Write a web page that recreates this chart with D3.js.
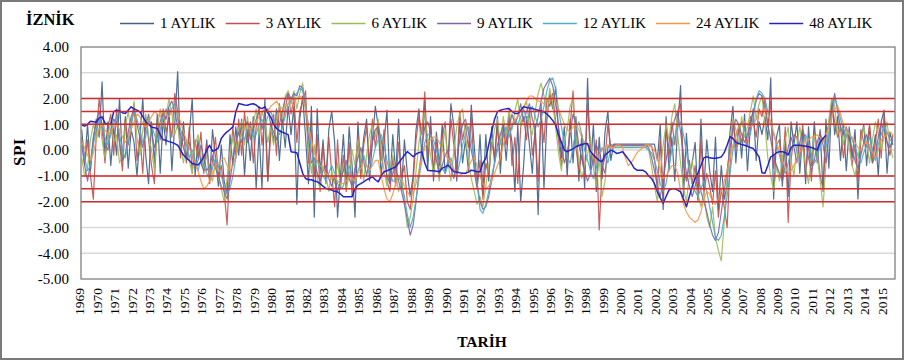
<!DOCTYPE html>
<html>
<head>
<meta charset="utf-8">
<script src="https://cdn.jsdelivr.net/npm/d3@7"></script>
<style>
  html, body { margin: 0; padding: 0; background: #fff; }
  svg { display: block; }
</style>
</head>
<body>
<svg id="chart" width="906" height="363"></svg>
<script>
// İznik SPI series, one value every two months (Jan, Mar, May, Jul, Sep, Nov) from January 1969.
const seriesNames = ["1 AYLIK", "3 AYLIK", "6 AYLIK", "9 AYLIK", "12 AYLIK", "24 AYLIK", "48 AYLIK"];
const seriesColors = ["#3e5f87", "#c0504d", "#9bbb59", "#8064a2", "#4bacc6", "#f79646", "#2424c4"];

const spi1 = [
  0.8, -0.5, 1.0, -0.8, 0.4, 1.2,
  0.5, 2.65, -0.3, 1.1, -0.6, 0.9,
  -0.2, 2.0, -0.4, 1.3, -0.7, 0.8,
  0.3, -1.0, 0.5, 2.0, -0.2, -1.3,
  1.1, -0.5, 1.4, -0.9, 1.2, 0.2,
  1.6, -0.8, 1.0, 3.05, -0.2, 1.1,
  -0.4, 0.6, 2.0, -1.0, 0.4, -0.5,
  -0.8, 0.4, -1.1, 0.8, -0.3, -1.4,
  0.2, -1.2, -1.7, 0.6, -0.6, 0.9,
  -0.2, 1.2, -1.0, 0.8, -0.4, 1.3,
  -1.5, 0.7, -1.5, 2.0, -1.2, 1.1,
  0.3, 1.6, -0.4, 1.2, 0.1, 1.7,
  0.6, 1.7, -2.1, 1.2, 2.1, 0.5,
  -1.3, 1.7, -2.6, 1.6, -0.9, 0.4,
  -1.2, 0.8, 1.5, 0.3, -2.6, -1.0,
  0.6, -1.4, 0.9, -0.6, -2.6, 1.1,
  -0.8, 0.5, 1.2, -1.2, 0.4, 1.7,
  0.9, -1.0, 0.3, 1.55, -1.3, 0.6,
  -0.9, 1.2, -1.5, 0.4, -0.9, -1.8,
  -1.0, 0.8, 1.6, -0.3, 1.9, -0.8,
  1.3, -1.2, 0.7, -0.6, 1.0, -0.9,
  -0.4, 1.8, 0.9, -1.2, 1.1, -0.5,
  0.4, -0.8, 1.75, 0.2, -1.4, 0.6,
  -1.7, 0.6, -1.2, 0.9, -0.5, 1.3,
  -0.9, 1.0, -0.4, 1.1, 0.3, -1.6,
  1.0, -2.0, -0.6, 1.3, 0.2, -0.9,
  1.0, -2.5, 1.8, -1.5, 1.2, 2.2,
  1.6, 2.45, 0.8, -0.3, 0.9, -1.0,
  1.2, -0.5, 1.3, -1.2, 0.6, -1.5,
  2.78, -0.8, 1.0, -1.6, 0.5, -1.1,
  0.7, 1.5, -0.4, 0.23, 0.23, 0.23,
  0.23, 0.23, 0.23, 0.23, 0.23, 0.23,
  0.23, 0.23, 0.23, 0.23, 0.23, 0.23,
  -0.4, 1.0, -2.3, 1.3, -0.8, 0.5,
  -1.2, 0.9, 2.5, -1.8, 0.65, -1.0,
  -0.5, 0.3, -1.9, 1.2, -1.5, 0.4,
  -0.8, -1.6, 0.5, -2.3, -0.6, -1.9,
  -1.4, 0.7, 1.7, -0.5, 1.0, -0.3,
  1.4, -0.8, 0.9, 1.6, -0.4, 1.1,
  0.6, 1.3, 0.4, 2.8, -1.9, 0.5,
  1.0, -1.4, 0.4, -1.8, 1.1, 0.2,
  1.1, -0.9, 0.7, -1.3, 0.9, -0.6,
  1.1, -0.5, 0.8, -1.6, 1.2, -0.7,
  2.0, 0.6, 1.3, -0.4, 1.0, -0.8,
  0.9, -0.3, 0.8, -1.9, 0.4, 1.0,
  -0.6, 0.9, -0.2, 0.6, -1.0, 1.1,
  1.55, -0.9, 0.7, 0.2
];

const spi3 = [
  0.5, -0.6, 0.4, -1.0, -1.9, 0.6,
  2.0, 0.8, -0.5, 0.9, 1.4, -0.2,
  1.6, 0.3, -0.8, 1.2, 0.2, 1.0,
  1.8, -0.4, 0.6, -0.9, 1.3, 0.4,
  -0.6, -1.3, 1.2, 0.4, 1.6, 0.7,
  1.2, 0.5, 2.2, 1.5, -0.3, 0.8,
  -0.5, 0.9, -0.9, 0.4, -0.3, 0.7,
  -0.9, 0.2, -1.3, -0.4, 0.5, -1.0,
  -0.6, -1.6, -2.9, -0.5, 0.9, -0.3,
  1.2, -0.2, 1.5, 0.3, 1.1, -0.5,
  0.9, 1.7, 0.2, 1.3, -1.2, 0.6,
  1.4, -0.2, 1.8, 0.9, 1.6, 2.2,
  1.4, 2.0, 0.3, 1.5, 1.9, 2.3,
  -0.5, 0.8, -1.0, 0.6, -1.6, 0.2,
  -1.3, 0.5, -0.9, -2.2, 0.4, -1.5,
  -0.2, -1.6, 0.3, -1.8, -0.9, 0.6,
  -1.1, 0.2, 0.9, -0.5, 1.2, 0.1,
  1.0, -0.4, 0.8, -1.2, -1.6, -0.3,
  -1.4, 0.3, -1.1, -0.6, -2.0, -2.3,
  -1.2, 0.4, 1.3, 0.6, 2.26, -0.3,
  0.9, -0.8, 0.3, -1.1, 0.5, 1.1,
  -0.6, 1.2, 0.2, -0.9, 1.5, 0.4,
  1.0, 0.1, 1.3, -0.8, -1.5, -0.4,
  -1.9, -0.5, -1.0, 0.3, -0.2, 0.9,
  -0.4, 0.7, 0.2, 1.4, -0.6, 0.5,
  -1.3, 0.9, 1.3, 0.4, 1.6, -0.2,
  0.6, -1.2, 1.4, 0.3, 2.0, 1.7,
  2.2, 1.1, 0.4, -0.6, 0.2, -0.5,
  0.9, 2.3, 0.1, -0.8, -0.2, -1.0,
  1.8, 0.2, -0.6, 0.4, -3.1, -0.7,
  -0.3, 1.0, 0.1, 0.17, 0.17, 0.17,
  0.17, 0.17, 0.17, 0.17, 0.17, 0.17,
  0.17, 0.17, 0.17, 0.17, 0.17, -0.3,
  -1.5, 0.4, -1.8, 0.9, -0.3, 1.1,
  0.2, 1.5, 1.8, -0.6, -1.2, -0.4,
  -1.3, -0.6, -2.0, 0.4, -1.7, -0.9,
  -1.4, -2.1, -0.8, -2.6, -1.5, -2.2,
  -3.0, -0.6, 1.2, 0.1, 0.8, 0.3,
  0.9, 0.2, 1.3, 1.1, 0.5, 1.6,
  1.3, 2.0, 0.9, 1.9, -0.7, 0.2,
  0.4, -0.9, 0.9, -2.8, -0.4, 0.6,
  0.5, -0.4, 1.0, -0.9, 0.3, -1.2,
  0.7, 0.1, -1.0, -1.5, 0.6, 1.0,
  1.8, 1.1, 0.5, 0.9, -0.3, 0.6,
  0.5, -0.6, 0.2, -1.2, 0.8, 0.3,
  0.1, 1.0, -0.5, 0.3, 1.2, -0.3,
  1.4, 0.3, -0.2, 0.6
];

const spi6 = [
  -0.3, -1.0, -0.7, 0.4, 1.0, 0.5,
  1.3, 0.4, -0.3, 0.6, 1.1, 0.3,
  0.6, -0.5, -0.2, 0.9, 1.5, 0.7,
  1.9, 0.5, -0.2, 0.8, 1.4, 0.6,
  0.0, -0.8, 0.8, 1.6, 0.9, 1.3,
  2.0, 1.4, 0.6, 1.0, 0.1, -0.5,
  0.4, -0.4, -0.9, 0.2, 0.6, -0.2,
  -0.7, -0.2, -0.9, -1.2, -0.5, -1.1,
  -1.5, -2.0, -1.1, -0.2, 0.5, 0.0,
  0.8, 1.1, 0.2, 1.3, 0.5, 1.0,
  1.6, 0.6, 1.5, 1.1, 0.3, 0.9,
  0.2, 1.3, 1.7, 1.2, 2.1, 2.3,
  1.8, 2.3, 1.6, 2.2, 2.6, 1.5,
  0.2, -0.9, 0.2, -1.1, -1.5, -0.6,
  -1.0, -1.6, -0.8, -1.3, -0.5, -1.4,
  -0.5, -1.5, -1.0, 0.0, -0.6, 0.4,
  -0.3, -1.2, -0.2, 0.6, 1.0, 0.5,
  1.2, 0.0, -0.8, -1.4, -0.7, -0.2,
  -0.9, -1.6, -1.1, -2.0, -3.0, -2.6,
  -1.9, -0.8, 0.3, 0.9, 1.5, 0.4,
  -0.2, -0.9, -0.2, -1.2, 0.1, 0.8,
  -0.5, -1.2, 0.0, 0.9, 1.4, 1.6,
  0.5, -0.4, -1.1, -1.6, -2.1, -1.8,
  -2.2, -1.4, -0.6, 0.1, 0.8, 1.2,
  0.2, 1.3, 0.6, 1.6, 0.8, 1.5,
  2.0, 0.9, 1.6, 1.9, 0.9, 0.6,
  1.5, 2.2, 2.6, 2.1, 1.3, 2.4,
  1.8, 0.9, -0.1, -0.8, 0.3, 0.8,
  1.7, 2.0, 0.5, -0.4, -1.1, -0.6,
  -0.2, 0.5, -0.7, -1.4, -0.3, -1.8,
  -1.2, 0.2, 0.12, 0.12, 0.12, 0.12,
  0.12, 0.12, 0.12, 0.12, 0.12, 0.12,
  0.12, 0.12, 0.12, 0.0, -0.6, -1.4,
  -2.0, -0.9, 0.2, 1.0, 0.4, 1.3,
  1.8, 0.6, -0.5, -1.5, -2.0, -1.0,
  -0.4, -1.2, -1.7, -2.2, -1.6, -2.6,
  -3.0, -2.2, -3.4, -3.9, -4.3, -2.8,
  -1.2, 0.4, 1.2, 0.8, 0.2, 1.3,
  0.5, 0.9, 1.5, 2.1, 1.2, 1.8,
  2.1, 1.0, -0.3, -1.0, -1.6, -0.6,
  -1.2, -0.3, 0.4, 0.9, -0.4, -1.0,
  0.2, 0.9, 0.1, -0.6, -1.3, -0.3,
  0.6, -0.2, -1.2, -2.2, -0.5, 1.2,
  2.0, 1.7, 0.6, 1.0, 0.2, 0.8,
  0.1, -0.6, -1.0, -0.3, 0.4, 0.9,
  0.3, -0.5, 0.4, 1.1, 0.6, 0.0,
  0.5, 1.1, 0.2, -0.3
];

const spi9 = [
  0.2, -0.6, -1.2, -0.5, 0.5, 1.1,
  1.5, 1.0, 0.3, 0.0, 0.8, 1.2,
  1.1, 0.3, -0.4, -0.2, 0.7, 1.3,
  1.6, 1.0, 0.5, 0.1, 0.9, 1.4,
  0.7, 0.1, 0.5, 1.1, 1.5, 1.2,
  1.7, 1.9, 1.5, 0.9, 0.6, 0.1,
  -0.3, 0.3, -0.2, -0.7, -0.4, 0.2,
  -0.3, -0.8, -0.6, -0.2, -0.7, -1.0,
  -1.4, -1.6, -1.9, -1.2, -0.4, 0.3,
  0.7, 0.3, 0.9, 1.1, 0.4, 0.8,
  1.2, 1.5, 0.8, 1.4, 1.6, 1.0,
  0.7, 0.4, 1.0, 1.5, 2.0, 2.2,
  2.0, 2.2, 2.1, 2.5, 2.4, 1.7,
  0.5, -0.5, -0.3, -0.9, -1.2, -0.8,
  -0.6, -1.1, -1.4, -1.0, -1.6, -1.2,
  -0.8, -0.4, -1.1, -1.4, -0.7, -0.3,
  0.1, -0.4, -1.0, -0.3, 0.3, 0.8,
  0.9, 0.4, -0.3, -1.0, -1.3, -0.9,
  -0.6, -1.2, -1.6, -2.1, -2.7, -3.3,
  -2.9, -2.0, -0.9, 0.1, 0.9, 1.1,
  0.7, 0.1, -0.4, -0.9, -0.6, -0.2,
  0.0, -0.7, -1.1, -0.4, 0.4, 1.0,
  1.2, 0.7, 0.0, -0.6, -1.3, -2.0,
  -2.3, -2.2, -1.8, -1.2, -0.5, 0.2,
  0.6, 1.0, 0.4, 0.9, 1.4, 1.0,
  1.3, 1.8, 1.1, 1.5, 1.8, 1.2,
  0.8, 1.3, 1.9, 2.4, 2.6, 2.8,
  2.5, 1.8, 0.9, 0.1, -0.5, -0.1,
  0.6, 1.4, 1.0, 0.2, -0.3, -0.8,
  -1.2, -0.9, -0.3, 0.2, -0.1, -0.6,
  -0.9, 0.1, 0.2, 0.19, 0.19, 0.19,
  0.19, 0.19, 0.19, 0.19, 0.19, 0.19,
  0.19, 0.19, 0.19, 0.1, -0.3, -0.8,
  -1.4, -1.8, -1.2, -0.4, 0.3, 0.8,
  1.2, 1.5, 0.7, -0.2, -0.9, -1.4,
  -1.8, -1.4, -1.0, -1.6, -2.0, -2.4,
  -2.9, -3.3, -3.5, -3.2, -2.4, -1.6,
  -0.8, 0.1, 0.8, 1.2, 1.0, 0.6,
  0.3, 0.6, 1.1, 1.5, 1.9, 2.2,
  2.1, 1.6, 1.0, 0.4, -0.2, -0.6,
  -0.9, -1.2, -0.6, 0.1, 0.5, 0.1,
  -0.5, 0.3, 0.8, 0.4, -0.3, -0.8,
  -0.4, 0.3, 0.7, 0.2, -0.5, 0.5,
  1.6, 2.2, 1.5, 0.9, 0.6, 0.9,
  0.5, 0.0, -0.4, -0.7, -0.2, 0.3,
  0.6, 0.1, -0.5, -0.2, 0.5, 1.0,
  0.8, 0.3, 0.1, 0.4
];

const spi12 = [
  0.4, -0.3, -0.8, -0.6, 0.2, 0.8,
  1.2, 0.9, 0.5, 0.2, 0.6, 1.0,
  1.3, 0.6, 0.0, -0.3, 0.3, 1.0,
  1.5, 1.2, 0.8, 0.3, 0.5, 1.2,
  1.0, 0.6, 0.3, 0.8, 1.3, 1.6,
  1.4, 1.6, 1.8, 1.2, 0.8, 0.4,
  0.2, -0.3, 0.0, -0.4, -0.8, -0.4,
  -0.6, -0.9, -1.1, -0.7, -0.3, -0.6,
  -1.0, -1.4, -1.7, -1.5, -1.0, -0.3,
  0.2, 0.6, 0.4, 0.8, 1.0, 0.5,
  0.6, 1.0, 1.2, 0.9, 1.3, 1.5,
  1.2, 0.9, 0.6, 0.9, 1.3, 1.8,
  1.9, 2.1, 2.2, 2.4, 2.3, 1.8,
  0.9, 0.0, -0.6, -0.4, -0.8, -1.0,
  -1.2, -0.9, -0.6, -0.9, -1.3, -1.5,
  -1.4, -1.0, -0.6, -1.0, -1.3, -0.8,
  -0.5, -0.2, -0.6, -0.9, -0.4, 0.1,
  0.4, 0.6, 0.2, -0.4, -0.9, -1.2,
  -1.2, -1.0, -1.3, -1.8, -2.5, -3.0,
  -2.6, -1.9, -1.1, -0.4, 0.3, 0.6,
  0.6, 0.4, 0.0, -0.4, -0.7, -0.9,
  -0.6, -0.3, -0.8, -1.0, -0.5, 0.2,
  0.6, 0.9, 0.4, -0.4, -1.3, -2.3,
  -2.45, -2.1, -1.6, -1.0, -0.5, 0.0,
  0.3, 0.6, 0.9, 0.5, 0.9, 1.2,
  1.0, 1.3, 1.6, 1.2, 1.4, 1.7,
  1.3, 0.9, 1.2, 1.7, 2.3, 2.7,
  2.8, 2.4, 1.6, 0.9, 0.3, -0.3,
  -0.5, 0.1, 0.8, 1.1, 0.6, 0.0,
  -0.4, -0.8, -1.1, -0.7, -0.2, 0.1,
  -0.2, -0.5, 0.1, 0.1, 0.1, 0.1,
  0.1, 0.1, 0.1, 0.1, 0.1, 0.1,
  0.1, 0.1, 0.1, 0.0, -0.1, -0.4,
  -0.8, -1.3, -1.6, -1.3, -0.6, 0.0,
  0.5, 0.9, 1.1, 0.6, -0.1, -0.8,
  -1.3, -1.6, -1.8, -1.5, -1.2, -1.6,
  -2.2, -2.8, -3.4, -3.5, -3.3, -2.6,
  -1.8, -0.9, 0.0, 0.6, 0.9, 1.1,
  0.8, 0.5, 0.6, 1.3, 2.0, 2.3,
  2.2, 2.0, 1.5, 1.0, 0.6, 0.2,
  -0.2, -0.6, -0.9, -0.5, 0.0, 0.3,
  0.0, -0.4, 0.2, 0.6, 0.3, -0.2,
  -0.5, -0.3, 0.2, 0.5, 0.1, 0.6,
  1.3, 2.0, 1.7, 1.2, 0.8, 0.5,
  0.7, 0.4, 0.1, -0.2, -0.5, -0.1,
  0.2, 0.5, 0.0, -0.4, 0.2, 0.6,
  0.9, 0.7, 0.4, 0.3
];

const spi24 = [
  0.3, 0.1, -0.2, -0.4, -0.1, 0.4,
  0.8, 1.0, 0.8, 0.6, 0.7, 0.9,
  1.0, 0.8, 0.5, 0.3, 0.5, 0.8,
  1.1, 1.4, 1.3, 1.0, 0.9, 1.1,
  1.3, 1.5, 1.4, 1.3, 1.5, 1.4,
  1.3, 1.5, 1.6, 1.4, 1.1, 0.7,
  0.4, 0.1, -0.2, -0.5, -0.8, -1.2,
  -1.5, -1.4, -1.2, -0.9, -0.6, -0.5,
  -0.4, -0.3, -0.6, -0.8, -0.6, -0.2,
  0.3, 0.7, 0.9, 0.9, 0.8, 1.0,
  1.1, 1.3, 1.5, 1.6, 1.5, 1.7,
  1.8, 1.9, 1.7, 1.6, 1.7, 1.8,
  1.8, 1.9, 2.0, 2.1, 2.0, 1.6,
  1.0, 0.4, -0.1, -0.4, -0.6, -0.7,
  -0.9, -1.0, -1.1, -1.0, -1.2, -1.3,
  -1.3, -1.2, -1.0, -1.1, -1.2, -0.9,
  -0.7, -0.5, -0.6, -0.8, -0.6, -0.4,
  -0.4, -1.0, -1.5, -1.9, -2.0, -1.7,
  -1.3, -1.0, -1.1, -1.4, -1.6, -1.8,
  -1.7, -1.3, -0.8, -0.3, 0.1, 0.3,
  0.4, 0.5, 0.5, 0.3, 0.0, -0.2,
  -0.3, -0.5, -0.8, -1.0, -1.0, -0.9,
  -0.9, -0.7, -0.4, -0.3, -0.6, -1.0,
  -1.3, -1.5, -1.4, -1.2, -0.9, -0.6,
  -0.3, 0.2, 0.6, 0.9, 1.0, 1.2,
  1.3, 1.5, 1.7, 1.9, 2.1, 2.1,
  2.0, 1.9, 1.9, 1.8, 1.9, 2.0,
  2.1, 1.9, 1.6, 1.3, 1.0, 0.8,
  0.7, 0.9, 1.0, 0.8, 0.5, 0.3,
  0.2, 0.0, -0.3, -0.4, -0.2, 0.0,
  0.1, 0.2, 0.1, 0.1, 0.2, 0.2,
  0.1, -0.3, -0.6, -0.5, -0.3, -0.1,
  0.0, 0.1, 0.2, 0.2, 0.1, 0.0,
  -0.3, -0.8, -1.1, -1.0, -0.8, -0.6,
  -0.6, -0.9, -1.6, -2.1, -2.4, -2.6,
  -2.7, -2.8, -2.7, -2.4, -1.9, -1.6,
  -1.7, -2.0, -2.1, -1.9, -1.6, -1.2,
  -0.8, -0.3, 0.2, 0.6, 0.9, 1.0,
  1.1, 1.0, 0.9, 1.0, 1.2, 1.4,
  1.5, 1.6, 1.4, 1.1, 0.7, 0.3,
  0.0, -0.4, -0.7, -0.9, -0.8, -0.6,
  -0.4, -0.1, 0.2, 0.4, 0.4, 0.5,
  0.5, 0.6, 0.5, 0.3, 0.6, 0.9,
  1.3, 1.6, 1.7, 1.4, 1.0, 0.8,
  0.6, 0.5, 0.3, 0.1, 0.0, 0.2,
  0.3, 0.2, -0.1, -0.3, 0.0, 0.4,
  0.5, 0.6, 0.7, 0.6
];

const spi48 = [
  0.97, 0.93, 1.0, 1.12, 1.1, 1.08,
  1.25, 1.29, 1.05, 1.0, 1.0, 1.49,
  1.55, 1.52, 1.45, 1.42, 1.55, 1.68,
  1.6, 1.55, 1.48, 1.3, 1.1, 1.0,
  0.9, 0.87, 0.84, 0.6, 0.4, 0.38,
  0.33, 0.3, 0.25, 0.19, 0.0, -0.19,
  -0.3, -0.4, -0.52, -0.55, -0.58, -0.45,
  -0.26, 0.0, 0.19, -0.04, 0.0, 0.09,
  0.45, 0.6, 0.71, 0.8, 0.9, 1.49,
  1.81, 1.78, 1.75, 1.74, 1.78, 1.8,
  1.75, 1.65, 1.61, 1.68, 1.45, 1.29,
  1.0, 0.84, 0.75, 0.7, 0.65, 0.6,
  -0.06, -0.08, -0.1, -0.5, -0.9, -1.1,
  -1.15, -1.15, -1.2, -1.23, -1.3, -1.4,
  -1.49, -1.52, -1.55, -1.6, -1.62, -1.7,
  -1.81, -1.81, -1.81, -1.81, -1.5, -1.36,
  -1.3, -1.23, -1.15, -1.1, -1.03, -1.15,
  -1.23, -1.0, -0.84, -0.8, -0.75, -0.7,
  -0.65, -0.5, -0.35, -0.2, -0.06, -0.15,
  -0.26, -0.15, -0.1, -0.06, -0.5, -0.78,
  -0.8, -0.8, -0.82, -0.84, -0.7, -0.65,
  -0.58, -0.7, -0.84, -0.85, -0.88, -0.9,
  -0.9, -0.85, -0.78, -0.8, -0.84, -0.84,
  -0.5, -0.32, 0.2, 0.71, 1.2, 1.49,
  1.55, 1.58, 1.6, 1.61, 1.5, 1.42,
  1.42, 1.55, 1.68, 1.65, 1.63, 1.61,
  1.58, 1.55, 1.52, 1.48, 1.4, 1.29,
  1.15, 0.97, 0.6, 0.3, 0.0, -0.06,
  0.0, 0.05, 0.13, 0.18, 0.22, 0.25,
  0.26, -0.05, -0.19, -0.3, -0.4, -0.45,
  -0.19, -0.1, 0.0, -0.05, -0.13, -0.1,
  -0.06, -0.2, -0.35, -0.5, -0.7, -0.78,
  -0.78, -0.78, -0.85, -1.0, -1.1, -1.3,
  -1.62, -1.85, -2.07, -1.8, -1.55, -1.5,
  -1.5, -1.55, -1.62, -1.9, -2.2, -1.8,
  -1.4, -1.1, -0.88, -0.6, -0.3, -0.26,
  -0.3, -0.32, -0.32, -0.3, -0.26, -0.1,
  0.19, 0.52, 0.45, 0.3, 0.26, 0.22,
  0.19, 0.15, 0.1, 0.06, -0.1, -0.26,
  -0.88, -0.9, -0.6, -0.26, -0.2, -0.1,
  -0.06, -0.06, -0.1, -0.19, 0.1, 0.19,
  0.19, 0.19, 0.17, 0.15, 0.13, 0.1,
  0.06, 0.0, 0.3, 0.45, 0.58
];

const seriesValues = [spi1, spi3, spi6, spi9, spi12, spi24, spi48];

// Drought/wet class limits drawn as red reference lines
const thresholdLevels = [2, 1.5, 1, -1, -1.5, -2];
const yTicks = [4, 3, 2, 1, 0, -1, -2, -3, -4, -5];
const yearLabels = [1969, 1970, 1971, 1972, 1973, 1974, 1975, 1976, 1977, 1978, 1979, 1980,
  1981, 1982, 1983, 1984, 1985, 1986, 1987, 1988, 1989, 1990, 1991, 1992, 1993, 1994,
  1995, 1996, 1997, 1998, 1999, 2000, 2001, 2002, 2003, 2004, 2005, 2006, 2007, 2008,
  2009, 2010, 2011, 2012, 2013, 2014, 2015];

const FONT = "'Liberation Serif', 'Times New Roman', serif";
const plot = { left: 81, right: 895, top: 47, bottom: 279 };
const monthsShown = 560; // Jan 1969 – Aug 2015
const stepMonths = 2;

const x = d3.scaleLinear().domain([1969, 1969 + monthsShown / 12]).range([plot.left, plot.right]);
const y = d3.scaleLinear().domain([-5, 4]).range([plot.bottom, plot.top]);

const svg = d3.select("#chart");

svg.append("rect").attr("width", 906).attr("height", 363).attr("fill", "#fff");
svg.append("rect")
  .attr("x", 1).attr("y", 1).attr("width", 902).attr("height", 358)
  .attr("fill", "none").attr("stroke", "#7a7a7a").attr("stroke-width", 2);

// horizontal gridlines
svg.append("g").selectAll("line")
  .data(yTicks.filter(v => v > -5 && v < 4))
  .join("line")
  .attr("x1", plot.left).attr("x2", plot.right)
  .attr("y1", d => y(d)).attr("y2", d => y(d))
  .attr("stroke", "#d9d9d9").attr("stroke-width", 1.5);

// y axis labels
const yAxisG = svg.append("g")
  .attr("transform", `translate(${plot.left},0)`)
  .attr("font-family", FONT)
  .call(d3.axisLeft(y).tickValues(yTicks).tickSize(0).tickPadding(12).tickFormat(d => d.toFixed(2)));
yAxisG.attr("font-family", FONT).attr("font-size", 15);
yAxisG.select(".domain").remove();
yAxisG.selectAll("text")
  .attr("font-family", FONT).attr("font-size", 15).attr("fill", "#000");

// x axis: rotated year labels
const xAxisG = svg.append("g")
  .attr("transform", `translate(0,${plot.bottom})`)
  .call(d3.axisBottom(x).tickValues(yearLabels).tickSize(0).tickFormat(d => String(d)));
xAxisG.attr("font-family", FONT).attr("font-size", 13.5);
xAxisG.select(".domain").remove();
xAxisG.selectAll("text")
  .attr("font-family", FONT).attr("font-size", 13.5).attr("fill", "#000")
  .attr("transform", "rotate(-90)")
  .attr("text-anchor", "end")
  .attr("x", -9).attr("y", -2).attr("dy", "0.35em");

// series lines
const timeOf = i => 1969 + (i * stepMonths + 0.5) / 12;
const line = d3.line()
  .x((d, i) => x(timeOf(i)))
  .y(d => y(d))
  .curve(d3.curveLinear);

const seriesG = svg.append("g");
seriesValues.forEach((vals, k) => {
  seriesG.append("path")
    .datum(vals)
    .attr("d", line)
    .attr("fill", "none")
    .attr("stroke", seriesColors[k])
    .attr("stroke-width", k === 6 ? 1.5 : 1.2)
    .attr("stroke-linejoin", "round")
    .attr("stroke-opacity", k === 6 ? 1 : 0.9);
});

// threshold lines
svg.append("g").selectAll("line")
  .data(thresholdLevels)
  .join("line")
  .attr("x1", plot.left).attr("x2", plot.right)
  .attr("y1", d => y(d)).attr("y2", d => y(d))
  .attr("stroke", "#d42a2a").attr("stroke-width", 1.5);

// plot area frame
svg.append("rect")
  .attr("x", plot.left).attr("y", plot.top)
  .attr("width", plot.right - plot.left).attr("height", plot.bottom - plot.top)
  .attr("fill", "none").attr("stroke", "#808080").attr("stroke-width", 1.3);

// title
svg.append("text")
  .attr("x", 26).attr("y", 25)
  .attr("font-family", FONT).attr("font-size", 16.5).attr("font-weight", "bold")
  .text("İZNİK");

// axis titles
svg.append("text")
  .attr("transform", "translate(25,152) rotate(-90)")
  .attr("text-anchor", "middle")
  .attr("font-family", FONT).attr("font-size", 17).attr("font-weight", "bold")
  .attr("letter-spacing", 0.5)
  .text("SPI");

svg.append("text")
  .attr("x", 482).attr("y", 346.5)
  .attr("text-anchor", "middle")
  .attr("font-family", FONT).attr("font-size", 15.5).attr("font-weight", "bold")
  .text("TARİH");

// legend, laid out left to right
const legendG = svg.append("g");
let lx = 120;
const ly = 23.5;
seriesNames.forEach((name, k) => {
  legendG.append("line")
    .attr("x1", lx).attr("x2", lx + 34).attr("y1", ly).attr("y2", ly)
    .attr("stroke", seriesColors[k]).attr("stroke-width", k === 6 ? 1.5 : 1.3);
  const t = legendG.append("text")
    .attr("x", lx + 40).attr("y", ly).attr("dy", "0.33em")
    .attr("font-family", FONT).attr("font-size", 15).attr("fill", "#000")
    .text(name);
  lx += 34 + 6 + t.node().getComputedTextLength() + 10;
});
</script>
</body>
</html>
